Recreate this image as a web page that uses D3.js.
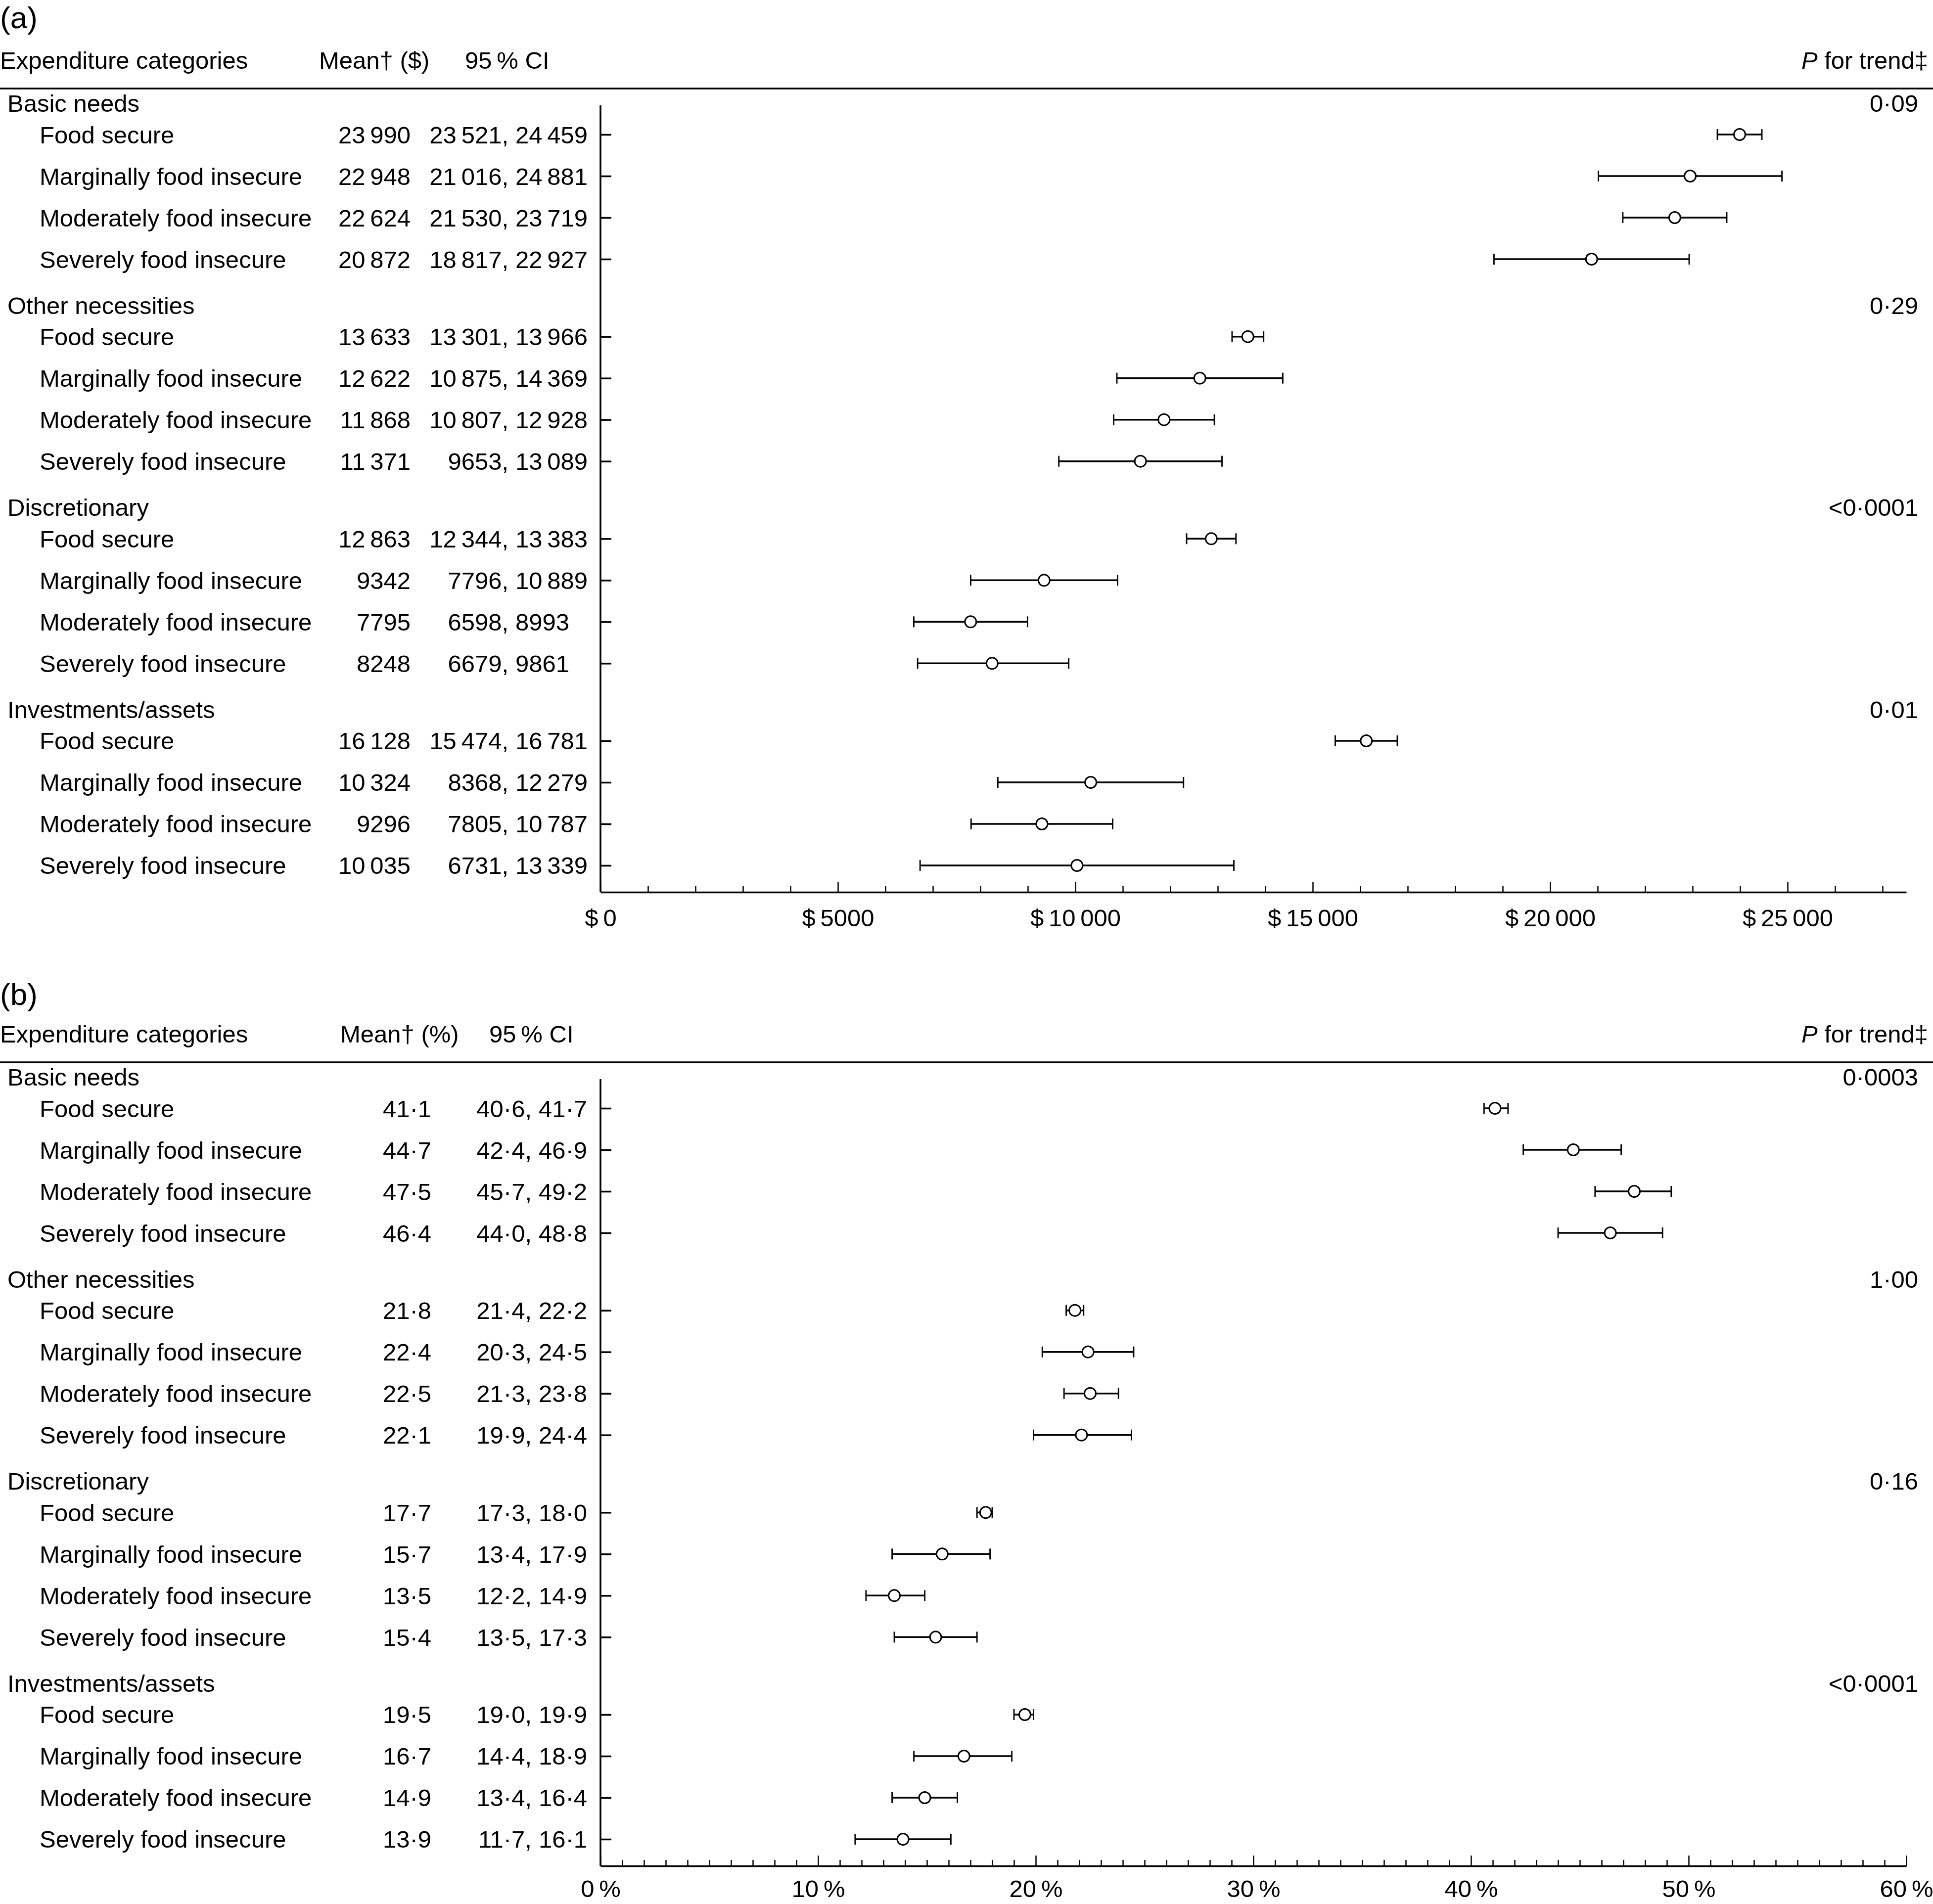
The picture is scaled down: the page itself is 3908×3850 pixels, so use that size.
<!DOCTYPE html>
<html><head><meta charset="utf-8">
<script src="https://cdn.jsdelivr.net/npm/d3@7"></script>
<style>
body{margin:0;background:#fff}
text{font-family:"Liberation Sans",Arial,Helvetica,sans-serif;fill:#000}
</style>
</head><body>
<svg id="chart" width="3908" height="3850" xmlns="http://www.w3.org/2000/svg"></svg>
<script>
// ---------- DATA ----------
const groups = ["Basic needs", "Other necessities", "Discretionary", "Investments/assets"];
const levels = ["Food secure", "Marginally food insecure", "Moderately food insecure", "Severely food insecure"];

const dollarMean = [23990, 22948, 22624, 20872, 13633, 12622, 11868, 11371, 12863, 9342, 7795, 8248, 16128, 10324, 9296, 10035];
const dollarLow  = [23521, 21016, 21530, 18817, 13301, 10875, 10807, 9653, 12344, 7796, 6598, 6679, 15474, 8368, 7805, 6731];
const dollarHigh = [24459, 24881, 23719, 22927, 13966, 14369, 12928, 13089, 13383, 10889, 8993, 9861, 16781, 12279, 10787, 13339];
const dollarP = ["0·09", "0·29", "<0·0001", "0·01"];
const dollarTicks = [0, 5000, 10000, 15000, 20000, 25000];

const pctMean = [41.1, 44.7, 47.5, 46.4, 21.8, 22.4, 22.5, 22.1, 17.7, 15.7, 13.5, 15.4, 19.5, 16.7, 14.9, 13.9];
const pctLow  = [40.6, 42.4, 45.7, 44.0, 21.4, 20.3, 21.3, 19.9, 17.3, 13.4, 12.2, 13.5, 19.0, 14.4, 13.4, 11.7];
const pctHigh = [41.7, 46.9, 49.2, 48.8, 22.2, 24.5, 23.8, 24.4, 18.0, 17.9, 14.9, 17.3, 19.9, 18.9, 16.4, 16.1];
const pctP = ["0·0003", "1·00", "0·16", "<0·0001"];
const pctTicks = [0, 10, 20, 30, 40, 50, 60];

// ---------- FORMATTERS ----------
const TS = "\u2009";
function fmtInt(n) {
  const s = String(Math.round(n));
  if (n < 10000) return s;
  return s.replace(/\B(?=(\d{3})+(?!\d))/g, TS);
}
function fmtPct(v) { return v.toFixed(1).replace(".", "·"); }

// ---------- LAYOUT ----------
const svg = d3.select("#chart");
const FS = 49;
const X0 = 1214, X1 = 3854;
const ROW = 84, GROUP_GAP = 0.865;   // in row units

function slot(i) { return Math.floor(i / 4) * (4 + GROUP_GAP) + (i % 4); }

function drawPanel(cfg) {
  const g = svg.append("g").attr("transform", `translate(0,${cfg.offset})`);
  const y = d3.scaleLinear().domain([0, 1]).range([272, 272 + ROW]);
  const x = d3.scaleLinear().domain(cfg.domain).range([X0, X1]);
  const axisY = 1804, axisTop = 213;

  // panel label
  svg.append("text").attr("x", 0).attr("y", cfg.labelY).attr("font-size", 62).text(cfg.label);

  // header
  g.append("text").attr("x", 0).attr("y", 139).attr("font-size", FS).text("Expenditure categories");
  g.append("text").attr("x", cfg.meanHeadX).attr("y", 139).attr("font-size", FS).text(cfg.meanHead);
  g.append("text").attr("x", cfg.ciHeadX).attr("y", 139).attr("font-size", FS).text("95" + TS + "% CI");
  const ph = g.append("text").attr("x", 3898).attr("y", 139).attr("font-size", FS).attr("text-anchor", "end");
  ph.append("tspan").attr("font-style", "italic").text("P");
  ph.append("tspan").text(" for trend‡");
  g.append("line").attr("x1", 0).attr("x2", 3908).attr("y1", 179).attr("y2", 179)
    .attr("stroke", "#000").attr("stroke-width", 3.5);

  // group headers + P values
  groups.forEach((gr, gi) => {
    const yy = y(slot(gi * 4)) - 46;
    g.append("text").attr("x", 15).attr("y", yy).attr("font-size", FS).text(gr);
    g.append("text").attr("x", 3878).attr("y", yy).attr("font-size", FS).attr("text-anchor", "end").text(cfg.p[gi]);
  });

  // rows
  const rows = cfg.mean.map((m, i) => ({ i, m, lo: cfg.low[i], hi: cfg.high[i], label: levels[i % 4] }));
  const rg = g.selectAll("g.row").data(rows).join("g").attr("class", "row");
  rg.append("text").attr("x", 80).attr("y", d => y(slot(d.i)) + 17.5).attr("font-size", FS).text(d => d.label);
  rg.append("text").attr("x", cfg.meanX).attr("y", d => y(slot(d.i)) + 17.5).attr("font-size", FS)
    .attr("text-anchor", "end").text(d => cfg.fmt(d.m));
  rg.append("text").attr("x", cfg.commaX).attr("y", d => y(slot(d.i)) + 17.5).attr("font-size", FS)
    .attr("text-anchor", "end").text(d => cfg.fmt(d.lo) + ",");
  rg.append("text").attr("x", cfg.commaX + 14).attr("y", d => y(slot(d.i)) + 17.5).attr("font-size", FS)
    .text(d => cfg.fmt(d.hi));

  // y axis
  g.append("line").attr("x1", X0).attr("x2", X0).attr("y1", axisTop).attr("y2", axisY)
    .attr("stroke", "#000").attr("stroke-width", 3.5);
  const yAxis = d3.axisRight(y).tickValues(rows.map(d => slot(d.i))).tickSize(22).tickFormat("");
  const ya = g.append("g").attr("transform", `translate(${X0},0)`).call(yAxis);
  ya.select(".domain").remove();
  ya.selectAll(".tick line").attr("stroke", "#000").attr("stroke-width", 3.5);

  // x axis minor
  const minor = d3.range(cfg.domain[0], cfg.domain[1] + 1e-9, cfg.minorStep).filter(v => !cfg.ticks.includes(v));
  const xm = g.append("g").attr("transform", `translate(0,${axisY})`)
    .call(d3.axisBottom(x).tickValues(minor).tickSize(-12).tickSizeOuter(0).tickFormat(""));
  xm.select(".domain").remove();
  xm.selectAll(".tick line").attr("stroke", "#000").attr("stroke-width", 2.5);
  // x axis major
  const xa = g.append("g").attr("transform", `translate(0,${axisY})`)
    .call(d3.axisBottom(x).tickValues(cfg.ticks).tickSize(-21).tickSizeOuter(0).tickPadding(cfg.tickPad).tickFormat(cfg.tickFmt));
  xa.select(".domain").attr("stroke", "#000").attr("stroke-width", 3.5);
  xa.selectAll(".tick line").attr("stroke", "#000").attr("stroke-width", 2.5);
  xa.selectAll(".tick text").attr("font-size", FS).attr("fill", "#000")
    .attr("font-family", "'Liberation Sans',Arial,Helvetica,sans-serif");

  // error bars
  const eb = g.selectAll("g.eb").data(rows).join("g").attr("class", "eb");
  eb.append("line").attr("x1", d => x(d.lo)).attr("x2", d => x(d.hi))
    .attr("y1", d => y(slot(d.i))).attr("y2", d => y(slot(d.i)))
    .attr("stroke", "#000").attr("stroke-width", 3.5);
  eb.append("line").attr("x1", d => x(d.lo)).attr("x2", d => x(d.lo))
    .attr("y1", d => y(slot(d.i)) - 11).attr("y2", d => y(slot(d.i)) + 11)
    .attr("stroke", "#000").attr("stroke-width", 2.8);
  eb.append("line").attr("x1", d => x(d.hi)).attr("x2", d => x(d.hi))
    .attr("y1", d => y(slot(d.i)) - 11).attr("y2", d => y(slot(d.i)) + 11)
    .attr("stroke", "#000").attr("stroke-width", 2.8);
  eb.append("circle").attr("cx", d => x(d.m)).attr("cy", d => y(slot(d.i))).attr("r", 11.5)
    .attr("fill", "#fff").attr("stroke", "#000").attr("stroke-width", 3);
}

drawPanel({
  offset: 0, label: "(a)", labelY: 57,
  meanHead: "Mean† ($)", meanHeadX: 645, ciHeadX: 940,
  mean: dollarMean, low: dollarLow, high: dollarHigh, p: dollarP,
  fmt: fmtInt, meanX: 830, commaX: 1028,
  domain: [0, 27500], ticks: dollarTicks, minorStep: 1000, tickPad: 34,
  tickFmt: v => "$" + TS + fmtInt(v)
});

drawPanel({
  offset: 1969, label: "(b)", labelY: 2032,
  meanHead: "Mean† (%)", meanHeadX: 688, ciHeadX: 989,
  mean: pctMean, low: pctLow, high: pctHigh, p: pctP,
  fmt: fmtPct, meanX: 872, commaX: 1075,
  domain: [0, 60], ticks: pctTicks, minorStep: 1, tickPad: 28,
  tickFmt: v => v + TS + "%"
});
</script>
</body></html>
